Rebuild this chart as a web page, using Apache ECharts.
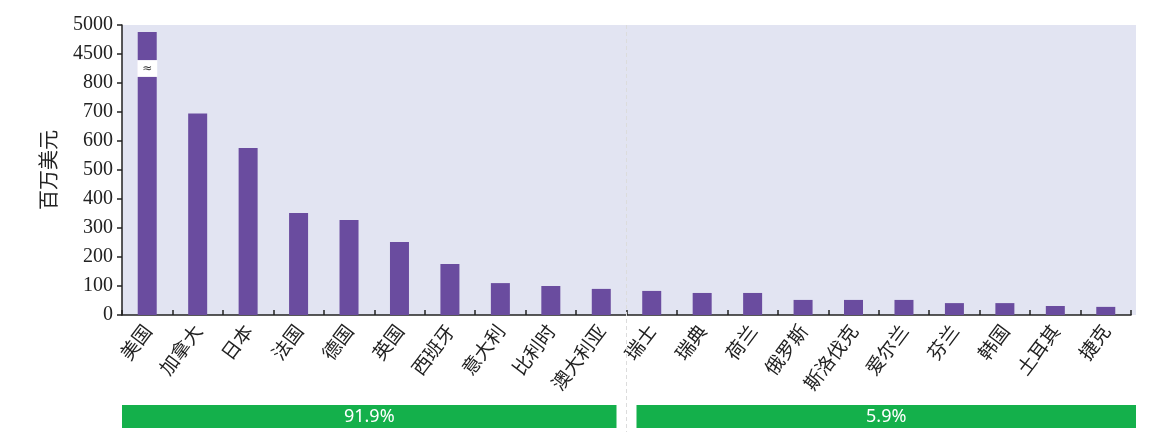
<!DOCTYPE html>
<html>
<head>
<meta charset="utf-8">
<script src="https://cdn.jsdelivr.net/npm/echarts@6/dist/echarts.min.js"></script>
<style>html,body{margin:0;padding:0;background:#fff;}#c{width:1160px;height:440px;}</style>
</head>
<body>
<div id="c"></div>
<script>
const categories = ['美国','加拿大','日本','法国','德国','英国','西班牙','意大利','比利时','澳大利亚','瑞士','瑞典','荷兰','俄罗斯','斯洛伐克','爱尔兰','芬兰','韩国','土耳其','捷克'];
const values = [4880, 695, 576, 352, 328, 252, 176, 110, 100, 90, 83, 76, 76, 52, 52, 52, 41, 41, 31, 28];
const yTickValues = [0, 100, 200, 300, 400, 500, 600, 700, 800, 4500, 5000];
const groupLabels = ['91.9%', '5.9%'];
const groupRanges = [[0, 9], [10, 19]];
const breakLow = 800, breakHigh = 4500, upperStep = 500;

// broken-axis mapping: linear up to 800, then 4500..5000 compressed into one tick step
function toAxis(v) {
  if (v <= breakLow) return v;
  return 900 + (v - breakHigh) / upperStep * 100;
}
function axisLabel(a) {
  const idx = Math.round(a / 100);
  return String(yTickValues[idx] !== undefined ? yTickValues[idx] : '');
}

const chart = echarts.init(document.getElementById('c'), null, {renderer: 'canvas'});
const purple = '#6a4c9f';
const gridLeft = 122, gridTop = 25, gridRight = 29, gridBottom = 125;

chart.setOption({
  animation: false,
  grid: {left: gridLeft, top: gridTop, right: gridRight, bottom: gridBottom, show: true, backgroundColor: '#e2e4f2', borderWidth: 0},
  xAxis: {
    type: 'category', data: categories,
    axisLine: {lineStyle: {color: '#222', width: 1.5}},
    axisTick: {show: true, inside: true, length: 5, lineStyle: {color: '#222', width: 1.5}},
    axisLabel: {rotate: 53, margin: 12, color: '#222', fontSize: 19, fontFamily: 'Noto Sans CJK SC'}
  },
  yAxis: {
    type: 'value', min: 0, max: 1000, interval: 100,
    name: '百万美元', nameLocation: 'middle', nameGap: 64, nameRotate: 90,
    nameTextStyle: {fontSize: 20, color: '#222', fontFamily: 'Noto Sans CJK SC'},
    axisLine: {show: true, lineStyle: {color: '#222', width: 1.5}},
    axisTick: {show: true, length: 5, lineStyle: {color: '#222', width: 1.5}},
    splitLine: {show: false},
    axisLabel: {formatter: axisLabel, color: '#222', fontSize: 20, fontFamily: 'Liberation Serif', margin: 9}
  },
  series: [{
    type: 'bar', barWidth: 19,
    data: values.map(toAxis),
    itemStyle: {color: purple}
  }]
});

function px(cat, v) { return chart.convertToPixel({xAxisIndex: 0, yAxisIndex: 0}, [cat, v]); }
const half = (px(1, 0)[0] - px(0, 0)[0]) / 2;
const y0 = px(0, 0)[1];
const yTop = px(0, 1000)[1];
const graphics = [];
// small right extension of plot background
graphics.push({type: 'rect', z: -1, shape: {x: px(19, 0)[0] + half, y: yTop, width: 5, height: y0 - yTop}, style: {fill: '#e2e4f2'}});
// separator between groups
const sepX = px(groupRanges[1][0], 0)[0] - half;
graphics.push({type: 'line', z: 1, shape: {x1: sepX, y1: yTop, x2: sepX, y2: 432}, style: {stroke: '#dcdcdc', lineWidth: 1, lineDash: [4, 3]}});
// break box on the US bar
const usX = px(0, 0)[0];
const bTop = px(0, 879)[1], bBot = px(0, 821)[1];
graphics.push({type: 'rect', z: 10, shape: {x: usX - 10, y: bTop, width: 20, height: bBot - bTop}, style: {fill: '#ffffff'}});
graphics.push({type: 'text', z: 11, x: usX, y: (bTop + bBot) / 2, style: {text: '≈', fill: '#333', fontSize: 12, fontFamily: 'DejaVu Sans', align: 'center', verticalAlign: 'middle'}});
// group bands
groupRanges.forEach((r, i) => {
  let x1 = px(r[0], 0)[0] - half + (i === 0 ? 0 : 10);
  let x2 = px(r[1], 0)[0] + half - (i === 0 ? 10 : -5);
  graphics.push({type: 'rect', z: 5, shape: {x: x1, y: 405, width: x2 - x1, height: 23}, style: {fill: '#14b04b'}});
  graphics.push({type: 'text', z: 6, x: (x1 + x2) / 2, y: 416.5, style: {text: groupLabels[i], fill: '#fff', fontSize: 18, fontFamily: 'Noto Sans', align: 'center', verticalAlign: 'middle'}});
});
chart.setOption({graphic: graphics});
</script>
</body>
</html>
